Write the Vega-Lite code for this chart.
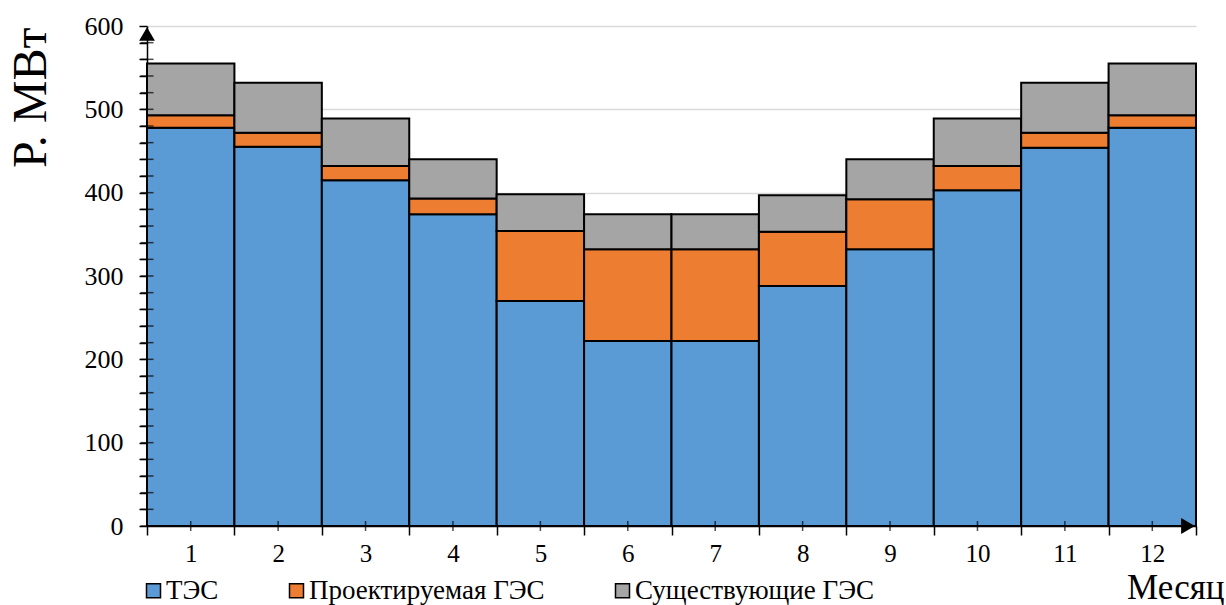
{
  "$schema": "https://vega.github.io/schema/vega-lite/v6.json",
  "width": 1049,
  "height": 500,
  "autosize": {"type": "none"},
  "padding": {"left": 147, "top": 26, "right": 30, "bottom": 79},
  "background": "white",
  "config": {
    "font": "Liberation Serif",
    "view": {"stroke": null},
    "legend": {"labelFont": "Liberation Serif"},
    "axis": {"labelFont": "Liberation Serif", "titleFont": "Liberation Serif"}
  },
  "datasets": {
    "yticks": [
      {"v": 0}, {"v": 20}, {"v": 40}, {"v": 60}, {"v": 80}, {"v": 100}, {"v": 120}, {"v": 140}, {"v": 160}, {"v": 180},
      {"v": 200}, {"v": 220}, {"v": 240}, {"v": 260}, {"v": 280}, {"v": 300}, {"v": 320}, {"v": 340}, {"v": 360}, {"v": 380},
      {"v": 400}, {"v": 420}, {"v": 440}, {"v": 460}, {"v": 480}, {"v": 500}, {"v": 520}, {"v": 540}, {"v": 560}, {"v": 580}
    ]
  },
  "data": {
    "values": [
      {"month": 1, "series": "ТЭС", "k": 1, "value": 478},
      {"month": 1, "series": "Проектируемая ГЭС", "k": 2, "value": 15},
      {"month": 1, "series": "Существующие ГЭС", "k": 3, "value": 62},
      {"month": 2, "series": "ТЭС", "k": 1, "value": 455},
      {"month": 2, "series": "Проектируемая ГЭС", "k": 2, "value": 17},
      {"month": 2, "series": "Существующие ГЭС", "k": 3, "value": 60},
      {"month": 3, "series": "ТЭС", "k": 1, "value": 415},
      {"month": 3, "series": "Проектируемая ГЭС", "k": 2, "value": 17},
      {"month": 3, "series": "Существующие ГЭС", "k": 3, "value": 57},
      {"month": 4, "series": "ТЭС", "k": 1, "value": 374},
      {"month": 4, "series": "Проектируемая ГЭС", "k": 2, "value": 19},
      {"month": 4, "series": "Существующие ГЭС", "k": 3, "value": 47},
      {"month": 5, "series": "ТЭС", "k": 1, "value": 270},
      {"month": 5, "series": "Проектируемая ГЭС", "k": 2, "value": 84},
      {"month": 5, "series": "Существующие ГЭС", "k": 3, "value": 44},
      {"month": 6, "series": "ТЭС", "k": 1, "value": 222},
      {"month": 6, "series": "Проектируемая ГЭС", "k": 2, "value": 110},
      {"month": 6, "series": "Существующие ГЭС", "k": 3, "value": 42},
      {"month": 7, "series": "ТЭС", "k": 1, "value": 222},
      {"month": 7, "series": "Проектируемая ГЭС", "k": 2, "value": 110},
      {"month": 7, "series": "Существующие ГЭС", "k": 3, "value": 42},
      {"month": 8, "series": "ТЭС", "k": 1, "value": 288},
      {"month": 8, "series": "Проектируемая ГЭС", "k": 2, "value": 65},
      {"month": 8, "series": "Существующие ГЭС", "k": 3, "value": 44},
      {"month": 9, "series": "ТЭС", "k": 1, "value": 332},
      {"month": 9, "series": "Проектируемая ГЭС", "k": 2, "value": 60},
      {"month": 9, "series": "Существующие ГЭС", "k": 3, "value": 48},
      {"month": 10, "series": "ТЭС", "k": 1, "value": 403},
      {"month": 10, "series": "Проектируемая ГЭС", "k": 2, "value": 29},
      {"month": 10, "series": "Существующие ГЭС", "k": 3, "value": 57},
      {"month": 11, "series": "ТЭС", "k": 1, "value": 454},
      {"month": 11, "series": "Проектируемая ГЭС", "k": 2, "value": 18},
      {"month": 11, "series": "Существующие ГЭС", "k": 3, "value": 60},
      {"month": 12, "series": "ТЭС", "k": 1, "value": 478},
      {"month": 12, "series": "Проектируемая ГЭС", "k": 2, "value": 15},
      {"month": 12, "series": "Существующие ГЭС", "k": 3, "value": 62}
    ]
  },
  "layer": [
    {
      "mark": {"type": "bar", "stroke": "black", "strokeWidth": 2},
      "encoding": {
        "x": {
          "field": "month",
          "type": "ordinal",
          "scale": {"paddingInner": 0, "paddingOuter": 0},
          "axis": {
            "title": "Месяц",
            "titleFont": "Liberation Serif",
            "titleFontSize": 35,
            "titleFontWeight": "normal",
            "titleColor": "black",
            "titleAlign": "right",
            "titleBaseline": "alphabetic",
            "titleAnchor": "end",
            "titleX": 1077,
            "titleY": 72,
            "labelFont": "Liberation Serif",
            "labelAngle": 0,
            "labelFontSize": 25,
            "labelColor": "black",
            "labelPadding": 6,
            "tickBand": "extent",
            "tickSize": 9,
            "tickWidth": 1.5,
            "tickColor": "black",
            "domainColor": "black",
            "domainWidth": 1.5,
            "grid": false
          }
        },
        "y": {
          "aggregate": "sum",
          "field": "value",
          "type": "quantitative",
          "stack": "zero",
          "scale": {"domain": [0, 600], "nice": false},
          "axis": {
            "title": "Р. МВт",
            "titleFont": "Liberation Serif",
            "titleFontSize": 48,
            "titleFontWeight": "normal",
            "titleColor": "black",
            "titleAngle": 270,
            "titleAlign": "right",
            "titleBaseline": "alphabetic",
            "titleX": -102,
            "titleY": 1,
            "values": [0, 20, 40, 60, 80, 100, 120, 140, 160, 180, 200, 220, 240, 260, 280, 300, 320, 340, 360, 380, 400, 420, 440, 460, 480, 500, 520, 540, 560, 580, 600],
            "tickCount": 100,
            "labelOverlap": false,
            "labelExpr": "datum.value % 100 === 0 ? datum.label : ''",
            "labelFont": "Liberation Serif",
            "labelFontSize": 26,
            "labelColor": "black",
            "labelPadding": 16,
            "tickSize": 8,
            "tickWidth": 1.5,
            "tickColor": "black",
            "domainColor": "black",
            "domainWidth": 1.5,
            "grid": true,
            "gridColor": "#D9D9D9",
            "gridWidth": 1.5,
            "gridOpacity": {"condition": {"test": "datum.value % 100 === 0 && datum.value > 0", "value": 1}, "value": 0}
          }
        },
        "color": {
          "field": "series",
          "type": "nominal",
          "scale": {
            "domain": ["ТЭС", "Проектируемая ГЭС", "Существующие ГЭС"],
            "range": ["#5B9BD5", "#ED7D31", "#A5A5A5"]
          },
          "legend": {
            "title": null,
            "orient": "none",
            "direction": "horizontal",
            "legendX": -7,
            "legendY": 551,
            "padding": 0,
            "symbolType": "square",
            "symbolSize": 196,
            "symbolStrokeColor": "black",
            "symbolStrokeWidth": 1.5,
            "symbolOpacity": 1,
            "labelFont": "Liberation Serif",
            "labelFontSize": 27,
            "labelColor": "black",
            "labelOffset": -1,
            "labelLimit": 400,
            "columnPadding": 64
          }
        },
        "order": {"field": "k", "type": "quantitative", "sort": "ascending"}
      }
    },
    {
      "transform": [{"filter": "datum.k === 1"}],
      "mark": {"type": "tick", "orient": "vertical", "color": "black", "size": 10, "thickness": 1.5},
      "encoding": {
        "x": {"field": "month", "type": "ordinal"},
        "y": {"datum": 0}
      }
    },
    {
      "data": {"name": "yticks"},
      "mark": {"type": "tick", "orient": "horizontal", "color": "black", "size": 13, "thickness": 1.5, "xOffset": -43.7},
      "encoding": {
        "x": {"datum": 1, "type": "ordinal"},
        "y": {"field": "v", "type": "quantitative"}
      }
    },
    {
      "data": {"values": [{"a": 1}]},
      "mark": {"type": "point", "shape": "triangle-up", "filled": true, "color": "black", "size": 250, "opacity": 1, "xOffset": -43.7, "yOffset": 8},
      "encoding": {
        "x": {"datum": 1, "type": "ordinal"},
        "y": {"datum": 600}
      }
    },
    {
      "data": {"values": [{"a": 1}]},
      "mark": {"type": "point", "shape": "triangle-right", "filled": true, "color": "black", "size": 250, "opacity": 1, "xOffset": 35.7},
      "encoding": {
        "x": {"datum": 12, "type": "ordinal"},
        "y": {"datum": 0}
      }
    }
  ]
}
